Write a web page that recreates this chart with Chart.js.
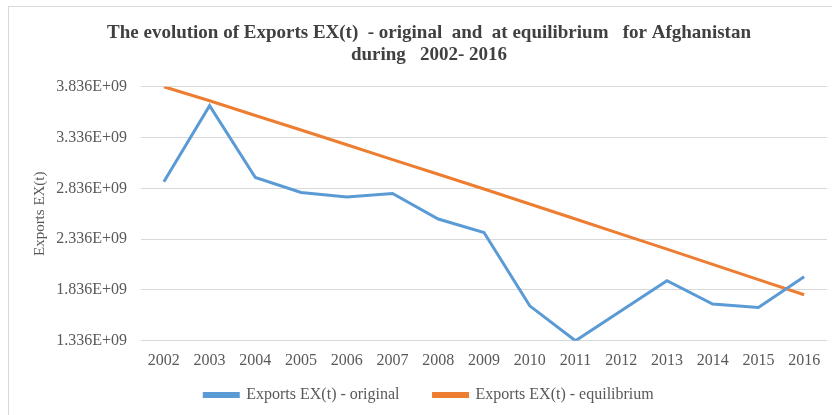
<!DOCTYPE html>
<html>
<head>
<meta charset="utf-8">
<script src="https://cdn.jsdelivr.net/npm/chart.js@4/dist/chart.umd.min.js"></script>
<style>
  html, body { margin: 0; padding: 0; background: #fff; }
  #wrap { position: relative; width: 832px; height: 415px; overflow: hidden; }
  #frame { position: absolute; left: 8px; top: 6px; width: 840px; height: 420px; border: 1px solid #d9d9d9; }
  canvas { position: absolute; left: 0; top: 0; }
</style>
</head>
<body>
<div id="wrap">
  <div id="frame"></div>
  <canvas id="chart" width="832" height="415"></canvas>
</div>
<script>
// dados
const anos = ["2002", "2003", "2004", "2005", "2006", "2007", "2008", "2009",
  "2010", "2011", "2012", "2013", "2014", "2015", "2016"];

const exportsOriginal = [2.901e9, 3.649e9, 2.943e9, 2.796e9, 2.750e9, 2.786e9,
  2.534e9, 2.402e9, 1.680e9, 1.336e9, 1.631e9, 1.927e9, 1.697e9, 1.664e9, 1.966e9];

const exportsEquilibrio = [3.836e9, 3.698e9, 3.553e9, 3.410e9, 3.265e9, 3.118e9,
  2.975e9, 2.830e9, 2.682e9, 2.534e9, 2.386e9, 2.238e9, 2.088e9, 1.938e9, 1.789e9];

const ticksY = [1.336e9, 1.836e9, 2.336e9, 2.836e9, 3.336e9, 3.836e9];

const corAzul = "#5b9bd5";
const corLaranja = "#ed7d31";
const serif = "'Liberation Serif', 'DejaVu Serif', serif";

const ctx = document.getElementById("chart").getContext("2d");
new Chart(ctx, {
  type: "line",
  data: {
    labels: anos,
    datasets: [
      {
        label: "Exports EX(t) - original",
        data: exportsOriginal,
        borderColor: corAzul,
        backgroundColor: corAzul,
        borderWidth: 3,
        pointRadius: 0,
        tension: 0,
      },
      {
        label: "Exports EX(t) - equilibrium",
        data: exportsEquilibrio,
        borderColor: corLaranja,
        backgroundColor: corLaranja,
        borderWidth: 3,
        pointRadius: 0,
        tension: 0,
      },
    ],
  },
  options: {
    responsive: false,
    animation: false,
    layout: { padding: { left: 31, right: 5, top: 22, bottom: 2 } },
    plugins: {
      title: {
        display: true,
        text: [
          "The evolution of Exports EX(t)  - original  and  at equilibrium   for Afghanistan",
          "during   2002- 2016",
        ],
        color: "#404040",
        font: { family: serif, size: 19, weight: "bold", lineHeight: 1.15 },
        padding: { top: 0, bottom: 21 },
      },
      legend: {
        position: "bottom",
        labels: {
          color: "#595959",
          font: { family: serif, size: 16 },
          boxWidth: 34,
          boxHeight: 3,
          padding: 10,
          // espaço extra entre as duas entradas, como no original
          generateLabels: (chart) => {
            const itens = Chart.defaults.plugins.legend.labels.generateLabels(chart);
            itens.forEach((it, i) => {
              if (i < itens.length - 1) it.text = it.text + "      ";
            });
            return itens;
          },
        },
      },
      tooltip: { enabled: false },
    },
    scales: {
      x: {
        offset: true,
        grid: { display: false },
        border: { display: false },
        ticks: { color: "#595959", font: { family: serif, size: 16 }, padding: 2 },
        afterFit: (scale) => {
          scale.height += 5;
        },
      },
      y: {
        min: 1.336e9,
        max: 3.836e9,
        afterBuildTicks: (axis) => {
          axis.ticks = ticksY.map((v) => ({ value: v }));
        },
        afterFit: (scale) => {
          scale.width = 110;
        },
        grid: { color: "#d9d9d9", drawTicks: false },
        border: { display: false },
        ticks: {
          color: "#595959",
          font: { family: serif, size: 16 },
          padding: 14,
          callback: (v) => (v / 1e9).toFixed(3) + "E+09",
        },
        title: {
          display: true,
          text: "Exports EX(t)",
          color: "#595959",
          font: { family: serif, size: 15 },
          padding: { top: 0, bottom: 4 },
        },
      },
    },
  },
});
</script>
</body>
</html>
